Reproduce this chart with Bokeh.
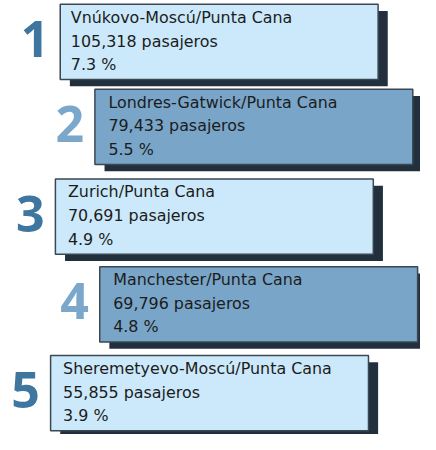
from bokeh.plotting import figure
from bokeh.models import Range1d, ColumnDataSource
from bokeh.core.properties import value
from bokeh.embed import file_html
from bokeh.resources import INLINE

# ---- data ----
ranks = ["1", "2", "3", "4", "5"]
routes = ["Vnúkovo-Moscú/Punta Cana", "Londres-Gatwick/Punta Cana", "Zurich/Punta Cana",
          "Manchester/Punta Cana", "Sheremetyevo-Moscú/Punta Cana"]
passengers = [105318, 79433, 70691, 69796, 55855]
shares = [7.3, 5.5, 4.9, 4.8, 3.9]

# ---- layout (in reference-image pixels) ----
W, H = 420, 434
REF_W, REF_H = 436, 450
k = W / REF_W
lefts = [62, 98, 57, 103, 52]
tops = [4, 92, 185, 276, 368]
text_dx = [11, 14, 13, 14, 13]
box_w, box_h = 330, 78
shadow_dx, shadow_dy = 10, 7

light_fill, dark_fill = "#cbe9fa", "#79a5c9"
num_dark, num_light = "#3f76a0", "#7ba7cb"

fills = [light_fill if i % 2 == 0 else dark_fill for i in range(5)]
num_cols = [num_dark if i % 2 == 0 else num_light for i in range(5)]

p = figure(width=W, height=H, output_backend="svg", toolbar_location=None,
           x_range=Range1d(0, REF_W), y_range=Range1d(REF_H, 0),
           x_axis_location=None, y_axis_location=None, min_border=0)
p.grid.visible = False
p.outline_line_color = None
p.background_fill_color = "white"

boxes = ColumnDataSource(dict(
    left=lefts, right=[l + box_w for l in lefts],
    top=tops, bottom=[t + box_h for t in tops],
    sl=[l + shadow_dx for l in lefts], sr=[l + box_w + shadow_dx for l in lefts],
    st=[t + shadow_dy for t in tops], sb=[t + box_h + shadow_dy for t in tops],
    fill=fills,
))
p.quad(left="sl", right="sr", top="st", bottom="sb", source=boxes,
       fill_color="#22303e", line_color=None)
p.quad(left="left", right="right", top="top", bottom="bottom", source=boxes,
       fill_color="fill", line_color="#3b4753", line_width=1.5)

# texts
line1 = routes
line2 = [f"{v:,} pasajeros" for v in passengers]
line3 = [f"{s} %" for s in shares]
tx, ty, tt = [], [], []
for i in range(5):
    for j, s in enumerate([line1[i], line2[i], line3[i]]):
        tx.append(lefts[i] + text_dx[i])
        ty.append(tops[i] + 13.5 + 24.5 * j)
        tt.append(s)
p.text(x=tx, y=ty, text=tt, text_font=value("DejaVu Sans"), text_font_size=f"{16.5*k:.1f}px",
       text_color="#1c1c1c", text_baseline="middle", text_align="left")

# rank numbers
p.text(x=[l - 26 for l in lefts], y=[t + 36 for t in tops], text=ranks,
       text_font=value("Open Sans"), text_font_size=f"{52*k:.1f}px", text_font_style="bold",
       text_color=num_cols, text_baseline="middle", text_align="center")

open("out.html", "w").write(file_html(p, INLINE))
